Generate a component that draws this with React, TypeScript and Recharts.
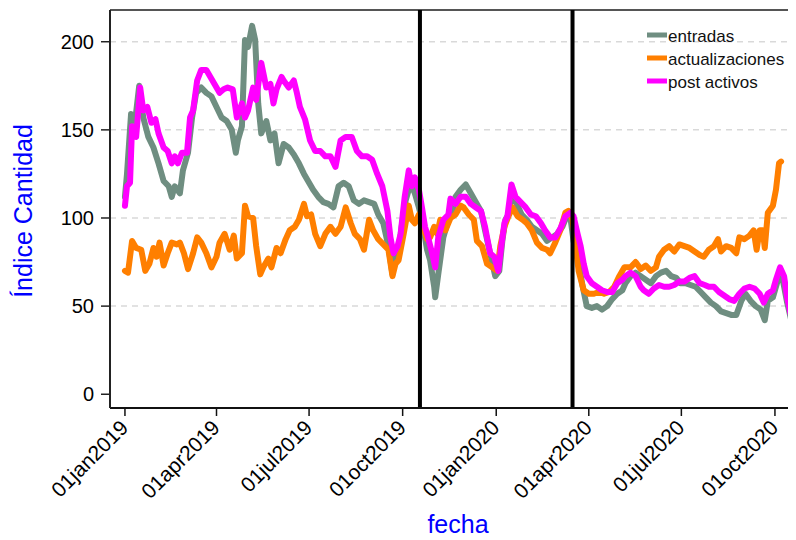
import React from 'react';
import { LineChart, Line, XAxis, YAxis, ReferenceLine } from 'recharts';

// Days counted from 01jan2019 (day 0)
const tickDays = [0, 90, 181, 273, 365, 456, 547, 639];
const tickLabels = ['01jan2019', '01apr2019', '01jul2019', '01oct2019', '01jan2020', '01apr2020', '01jul2020', '01oct2020'];
const yTicks = [0, 50, 100, 150, 200];
const gridValues = [50, 100, 150, 200];
const eventDays = [290, 440];

const seriesNames = ['entradas', 'actualizaciones', 'post activos'];
const seriesColors = ['#6f8e81', '#ff7f00', '#ff00ff'];

const entradas: [number, number][] = [
  [0, 112], [2, 125], [6, 159], [10, 155], [14, 175], [18, 157], [23, 146], [28, 140], [33, 131], [38, 121],
  [43, 118], [46, 112], [49, 118], [54, 114], [57, 127], [62, 137], [66, 157], [70, 171], [75, 174], [80, 171],
  [85, 169], [90, 163], [95, 157], [100, 155], [105, 150], [109, 137], [111, 144], [115, 152], [118, 201], [121, 197],
  [125, 209], [128, 201], [131, 165], [134, 148], [139, 155], [143, 144], [147, 148], [151, 131], [156, 142], [161, 140],
  [166, 136], [171, 131], [176, 125], [180, 121], [185, 116], [190, 112], [195, 109], [200, 108], [205, 106], [210, 118],
  [215, 120], [220, 118], [225, 110], [230, 108], [235, 110], [240, 109], [245, 108], [249, 102], [254, 97], [259, 84],
  [263, 68], [266, 80], [269, 82], [272, 95], [276, 110], [279, 116], [282, 118], [285, 114], [289, 106], [292, 99],
  [297, 82], [300, 76], [304, 61], [305, 55], [308, 68], [313, 89], [318, 99], [323, 106], [325, 112], [330, 116],
  [335, 119], [340, 114], [345, 109], [350, 104], [354, 93], [359, 80], [364, 67], [368, 70], [371, 87], [374, 99],
  [377, 102], [380, 114], [385, 108], [390, 102], [395, 99], [400, 95], [405, 93], [410, 91], [415, 87], [420, 89],
  [425, 91], [430, 95], [435, 102], [438, 100], [441, 87], [445, 78], [450, 61], [454, 50], [459, 49], [464, 50],
  [469, 48], [474, 50], [479, 54], [484, 57], [489, 59], [492, 63], [497, 67], [502, 69], [507, 67], [512, 65],
  [517, 63], [522, 67], [527, 69], [532, 70], [537, 67], [542, 66], [546, 63], [551, 63], [556, 62], [561, 61],
  [566, 58], [571, 55], [576, 52], [581, 50], [586, 47], [591, 46], [596, 45], [601, 45], [606, 53], [610, 57],
  [615, 53], [620, 50], [625, 48], [629, 42], [632, 53], [637, 55], [642, 65], [645, 70], [648, 61], [651, 52],
  [655, 42], [658, 34], [661, 31],
];

const actualizaciones: [number, number][] = [
  [0, 70], [3, 69], [7, 87], [11, 83], [16, 82], [20, 70], [24, 74], [28, 83], [31, 78], [34, 86],
  [38, 73], [42, 80], [46, 86], [51, 85], [54, 86], [58, 80], [62, 71], [67, 80], [71, 89], [75, 86],
  [80, 80], [85, 72], [90, 78], [93, 86], [98, 91], [103, 82], [107, 90], [110, 77], [115, 80], [118, 107],
  [121, 101], [126, 100], [129, 84], [133, 68], [136, 72], [141, 77], [144, 72], [149, 83], [153, 80], [158, 88],
  [162, 93], [167, 95], [171, 99], [176, 108], [179, 101], [183, 102], [187, 91], [192, 84], [197, 91], [202, 95],
  [207, 91], [212, 95], [217, 106], [222, 97], [226, 91], [231, 88], [235, 82], [240, 99], [244, 93], [249, 88],
  [254, 85], [259, 82], [263, 67], [266, 74], [269, 76], [274, 91], [279, 107], [282, 99], [285, 97], [289, 102],
  [292, 97], [297, 88], [300, 89], [304, 95], [307, 91], [310, 99], [315, 93], [320, 100], [325, 102], [330, 107],
  [333, 106], [338, 102], [343, 99], [346, 87], [351, 84], [356, 74], [361, 72], [366, 70], [369, 84], [373, 95],
  [377, 101], [381, 106], [386, 101], [391, 99], [395, 97], [400, 93], [405, 86], [410, 83], [415, 82], [418, 80],
  [423, 86], [428, 93], [433, 103], [436, 104], [440, 99], [443, 84], [446, 70], [451, 59], [456, 57], [461, 57],
  [466, 58], [471, 57], [476, 58], [481, 61], [486, 67], [491, 72], [497, 72], [502, 75], [507, 71], [512, 73],
  [517, 70], [522, 72], [525, 78], [530, 82], [535, 84], [540, 81], [545, 85], [550, 84], [555, 83], [560, 81],
  [565, 79], [569, 78], [574, 82], [579, 84], [583, 88], [586, 81], [591, 84], [596, 83], [601, 80], [604, 89],
  [609, 88], [614, 90], [618, 93], [621, 82], [624, 93], [627, 93], [629, 83], [632, 103], [637, 107], [640, 116],
  [643, 131], [645, 132],
];

const postActivos: [number, number][] = [
  [0, 107], [2, 118], [5, 120], [7, 152], [11, 146], [15, 174], [18, 161], [22, 163], [26, 154], [30, 156],
  [33, 148], [38, 140], [42, 138], [46, 131], [49, 135], [52, 131], [56, 137], [61, 137], [64, 157], [67, 161],
  [71, 178], [75, 184], [80, 184], [84, 180], [88, 176], [93, 171], [97, 173], [101, 174], [106, 173], [110, 157],
  [115, 165], [118, 157], [121, 161], [126, 174], [129, 167], [134, 188], [139, 174], [143, 176], [146, 165], [149, 173],
  [154, 180], [156, 178], [161, 174], [166, 178], [169, 171], [172, 163], [177, 156], [182, 144], [187, 138], [192, 138],
  [197, 135], [202, 135], [207, 129], [212, 144], [217, 146], [223, 146], [228, 138], [233, 135], [238, 135], [243, 133],
  [248, 125], [253, 118], [258, 104], [261, 89], [264, 80], [268, 84], [271, 91], [275, 112], [279, 127], [282, 118],
  [285, 123], [289, 116], [292, 106], [295, 95], [298, 89], [302, 80], [305, 72], [308, 89], [313, 99], [318, 102],
  [320, 111], [325, 108], [330, 112], [335, 112], [340, 108], [345, 106], [350, 104], [354, 95], [359, 80], [363, 78],
  [367, 70], [370, 84], [373, 97], [376, 101], [380, 119], [384, 112], [389, 109], [394, 106], [399, 102], [404, 101],
  [409, 97], [413, 93], [418, 89], [423, 89], [428, 94], [433, 101], [438, 103], [441, 101], [445, 91], [448, 84],
  [451, 74], [454, 67], [459, 63], [464, 61], [469, 59], [474, 58], [479, 58], [484, 63], [489, 65], [492, 67],
  [497, 69], [502, 67], [507, 61], [510, 59], [515, 57], [520, 60], [525, 62], [530, 61], [535, 61], [540, 62],
  [545, 64], [550, 64], [555, 66], [560, 67], [565, 63], [570, 62], [574, 61], [579, 61], [584, 58], [589, 56],
  [594, 54], [599, 53], [604, 57], [609, 60], [614, 61], [619, 60], [624, 57], [628, 52], [632, 57], [637, 59],
  [640, 65], [644, 72], [648, 67], [651, 55], [655, 44], [658, 34], [661, 31],
];

const toRows = (pts: [number, number][]) => pts.map(([dia, valor]) => ({ dia, valor }));
const seriesData = [toRows(entradas), toRows(actualizaciones), toRows(postActivos)];

const X_DOMAIN: [number, number] = [-14.7, 659.7];
const Y_DOMAIN: [number, number] = [-7.8, 218];
const FONT = '"Liberation Sans", Arial, sans-serif';

const XTick = (props: any) => {
  const { x, y, payload } = props;
  const idx = tickDays.indexOf(payload.value);
  const label = idx >= 0 ? tickLabels[idx] : '';
  const px = x + 4.5;
  const py = y + 13;
  return (
    <text x={px} y={py} transform={`rotate(-45 ${px} ${py})`} textAnchor="end" fontSize={21} fill="#000" fontFamily={FONT}>
      {label}
    </text>
  );
};

export default function App() {
  const W = 788;
  const H = 530;
  return (
    <div style={{ position: 'relative', width: W, height: H }}>
      <LineChart width={W} height={H} margin={{ top: 2, right: 0, bottom: 0, left: 0 }}>
        <XAxis
          type="number"
          dataKey="dia"
          domain={X_DOMAIN}
          allowDataOverflow
          ticks={tickDays}
          tick={<XTick />}
          tickSize={8}
          tickMargin={0}
          height={130}
          axisLine={{ stroke: '#111', strokeWidth: 2 }}
          tickLine={{ stroke: '#111', strokeWidth: 1.5 }}
          interval={0}
        />
        <YAxis
          type="number"
          domain={Y_DOMAIN}
          allowDataOverflow
          ticks={yTicks}
          width={102}
          tickSize={9}
          tickMargin={7}
          axisLine={{ stroke: '#222', strokeWidth: 2 }}
          tickLine={{ stroke: '#222', strokeWidth: 1.5 }}
          tick={{ fontSize: 20, fill: '#000', fontFamily: FONT }}
          interval={0}
        />
        {gridValues.map((v) => (
          <ReferenceLine key={`g${v}`} y={v} stroke="#d9d9d9" strokeWidth={1.5} strokeDasharray="6 5" />
        ))}
        <ReferenceLine y={Y_DOMAIN[1]} stroke="#555" strokeWidth={2} />
        {seriesData.map((rows, i) => (
          <Line
            key={seriesNames[i]}
            data={rows}
            dataKey="valor"
            name={seriesNames[i]}
            type="linear"
            stroke={seriesColors[i]}
            strokeWidth={6}
            strokeLinejoin="round"
            strokeLinecap="round"
            dot={false}
            activeDot={false}
            isAnimationActive={false}
          />
        ))}
        {eventDays.map((d) => (
          <ReferenceLine key={`e${d}`} x={d} stroke="#000" strokeWidth={4} />
        ))}
      </LineChart>
      <svg width={W} height={H} style={{ position: 'absolute', left: 0, top: 0, pointerEvents: 'none', overflow: 'visible' }}>
        <text
          x={24}
          y={203}
          transform="rotate(-90 24 203)"
          textAnchor="middle"
          fontSize={25}
          fill="#0000ff"
          fontFamily={FONT}
        >
          Índice Cantidad
        </text>
        <text x={450} y={525} textAnchor="middle" fontSize={25} fill="#0000ff" fontFamily={FONT}>
          fecha
        </text>
        {seriesNames.map((name, i) => {
          const cy = 27 + i * 23;
          return (
            <g key={name}>
              <rect x={639} y={cy - 2.5} width={20} height={5} fill={seriesColors[i]} />
              <text x={660} y={cy + 6.5} fontSize={17} fill="#111" fontFamily={FONT}>
                {name}
              </text>
            </g>
          );
        })}
      </svg>
    </div>
  );
}
